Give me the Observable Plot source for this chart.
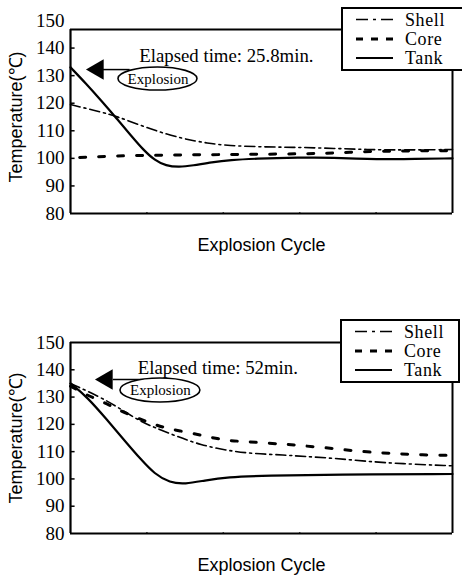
<!DOCTYPE html>
<html><head><meta charset="utf-8">
<script src="https://cdn.jsdelivr.net/npm/d3@7"></script>
<script src="https://cdn.jsdelivr.net/npm/@observablehq/plot@0.6"></script>
<style>
body{margin:0;background:#fff;}
#wrap{position:relative;width:462px;height:575px;overflow:hidden;background:#fff;}
.panel{position:absolute;left:0;}
.legend{position:absolute;background:#fff;border:2px solid #000;box-sizing:border-box;}
</style></head><body><div id="wrap"></div>
<script>
// ---------- data ----------
const yTicks = [80, 90, 100, 110, 120, 130, 140, 150];
const xTicks = [1, 2, 3, 4];
const seriesNames = ["Shell", "Core", "Tank"];

// Panel 1 (elapsed time 25.8 min)
const tank1X  = [0, 0.2, 0.4, 0.6, 0.8, 0.95, 1.1, 1.25, 1.42, 1.6, 1.85, 2.1, 2.4, 3.0, 3.45, 3.88, 4.32, 5];
const tank1T  = [133, 127.2, 121.0, 114.6, 108.0, 103.2, 99.3, 97.3, 96.8, 97.4, 98.6, 99.4, 99.9, 100.3, 100.3, 99.7, 99.7, 100];
const shell1X = [0, 0.3, 0.61, 1.05, 1.48, 1.8, 2.05, 2.58, 3.0, 3.45, 3.88, 4.32, 5];
const shell1T = [119.5, 117.5, 115.3, 110.5, 107, 105.5, 104.6, 104.1, 104, 103.6, 103.2, 103, 103.2];
const core1X  = [0.12, 0.6, 1.2, 1.8, 2.4, 3.0, 3.5, 4.0, 4.5, 5];
const core1T  = [100.3, 100.9, 101.2, 101.3, 101.5, 101.6, 102.0, 102.6, 102.7, 102.8];

// Panel 2 (elapsed time 52 min)
const tank2X  = [0, 0.22, 0.48, 0.74, 0.92, 1.1, 1.3, 1.5, 1.75, 2.05, 2.57, 3.45, 5];
const tank2T  = [135, 130, 121.6, 113, 107.2, 101.8, 98.6, 98.1, 99.4, 100.7, 101.2, 101.6, 101.8];
const shell2X = [0, 0.39, 0.61, 0.92, 1.09, 1.4, 1.7, 2.05, 2.4, 2.8, 3.06, 3.45, 3.88, 4.32, 5];
const shell2T = [135, 130, 126.4, 121, 119, 115.5, 112.5, 110.4, 109.2, 108.8, 108.2, 107.6, 106.4, 105.6, 104.8];
const core2X  = [0, 0.22, 0.48, 0.72, 1.05, 1.26, 1.55, 1.79, 2.05, 2.3, 2.57, 2.83, 3.06, 3.32, 3.58, 3.84, 4.1, 4.32, 4.58, 5];
const core2T  = [134, 130.6, 127.6, 124, 120.4, 118.5, 117, 115.5, 114, 113.7, 113.1, 112.7, 112.1, 111.5, 110.7, 110, 109.5, 109.2, 108.8, 108.6];

const elapsed = ["Elapsed time: 25.8min.", "Elapsed time: 52min."];
const xTitle = "Explosion Cycle";
const yTitle = "Temperature(℃)";
const noteLabel = "Explosion";

// ---------- helpers ----------
const rows = (xs, ts) => xs.map((x, i) => ({x, t: ts[i]}));
const serif = "'Liberation Serif', 'Times New Roman', serif";
const sans = "'Liberation Sans', Arial, sans-serif";
const styles = {
  Shell: {strokeWidth: 1.6, dash: "10,4,2,4", legendDash: "12,5,3,5"},
  Core:  {strokeWidth: 3,   dash: "6,13",     legendDash: "7,8"},
  Tank:  {strokeWidth: 2.2, dash: null,       legendDash: null}
};

function panel(opt) {
  const {shell, core, tank, frameTop, height, marginTop, marginBottom, note} = opt;
  const lines = [["Shell", shell], ["Core", core], ["Tank", tank]];
  return Plot.plot({
    width: 462, height, marginLeft: 70, marginRight: 10, marginTop, marginBottom,
    style: {fontFamily: serif, color: "black", background: "white", overflow: "visible"},
    x: {domain: [0, 5], axis: null},
    y: {domain: [80, 150], axis: null},
    marks: [
      // frame
      Plot.ruleY([80], {x1: 0, x2: 5, strokeWidth: 2.2}),
      Plot.ruleY([frameTop], {x1: 0, x2: 5, strokeWidth: 2}),
      Plot.ruleX([0], {y1: 80, y2: frameTop, strokeWidth: 2.2}),
      Plot.ruleX([5], {y1: 80, y2: frameTop, strokeWidth: 2}),
      // inward ticks
      Plot.ruleY(yTicks.slice(1, -1), {x1: 0, x2: 0.06, strokeWidth: 1.5}),
      Plot.ruleX(xTicks, {y1: 80, y2: 80.25, strokeWidth: 1.5}),
      Plot.axisY(yTicks, {tickSize: 0, tickPadding: 6, fontSize: 19, label: null, fill: "black"}),
      // series
      ...lines.map(([name, data]) => Plot.line(data, {
        x: "x", y: "t", curve: "basis", stroke: "black",
        strokeWidth: styles[name].strokeWidth, strokeDasharray: styles[name].dash
      })),
      // annotations
      Plot.text([note.text], {x: note.tx, y: note.ty, text: d => d, textAnchor: "start", fontSize: 18.8, fontFamily: serif}),
      Plot.ruleY([note.ay], {x1: note.lx1, x2: note.lx2, strokeWidth: 1.5}),
      Plot.dot([0], {x: note.ax, y: note.ay, symbol: "triangle", r: 7.6, rotate: -90, fill: "black", stroke: "none"}),
      Plot.rect([0], {x1: note.ex1, x2: note.ex2, y1: note.ey1, y2: note.ey2, rx: 40, ry: 12, fill: "white", stroke: "black", strokeWidth: 1.6}),
      Plot.text([noteLabel], {x: (note.ex1 + note.ex2) / 2, y: (note.ey1 + note.ey2) / 2, text: d => d, fontSize: 15, fontFamily: serif}),
      // titles
      Plot.text([yTitle], {frameAnchor: "left", dx: -54, rotate: -90, textAnchor: "middle", lineAnchor: "middle", text: d => d, fontFamily: sans, fontSize: 18}),
      Plot.text([xTitle], {frameAnchor: "bottom", dy: 32, textAnchor: "middle", lineAnchor: "middle", text: d => d, fontFamily: sans, fontSize: 18})
    ]
  });
}

function legend(left, top, width) {
  const div = document.createElement("div");
  div.className = "legend";
  Object.assign(div.style, {left: left + "px", top: top + "px", width: width + "px", height: "64px"});
  const svg = d3.select(div).append("svg").attr("width", width).attr("height", 60);
  const ys = [10.5, 30, 49];
  seriesNames.forEach((name, i) => {
    svg.append("line").attr("x1", 13).attr("x2", 50).attr("y1", ys[i]).attr("y2", ys[i])
      .attr("stroke", "black").attr("stroke-width", styles[name].strokeWidth)
      .attr("stroke-dasharray", styles[name].legendDash);
    svg.append("text").attr("x", 62).attr("y", ys[i]).attr("dy", "0.35em")
      .attr("font-family", serif).attr("font-size", 18).attr("letter-spacing", "0.6px").text(name);
  });
  return div;
}

const wrap = document.getElementById("wrap");

const p1 = panel({
  shell: rows(shell1X, shell1T), core: rows(core1X, core1T), tank: rows(tank1X, tank1T),
  frameTop: 146.7, height: 290, marginTop: 20, marginBottom: 77,
  note: {text: elapsed[0], tx: 0.9, ty: 137.3, ax: 0.357, ay: 132.2, lx1: 0.43, lx2: 0.78,
         ex1: 0.628, ex2: 1.662, ey1: 124.6, ey2: 132.95}
});
p1.classList.add("panel"); p1.style.top = "0px";
wrap.appendChild(p1);

const p2 = panel({
  shell: rows(shell2X, shell2T), core: rows(core2X, core2T), tank: rows(tank2X, tank2T),
  frameTop: 150, height: 285, marginTop: 52, marginBottom: 42,
  note: {text: elapsed[1], tx: 0.88, ty: 140.8, ax: 0.475, ay: 136.4, lx1: 0.56, lx2: 1.05,
         ex1: 0.654, ex2: 1.70, ey1: 128.0, ey2: 136.8}
});
p2.classList.add("panel"); p2.style.top = "290px";
wrap.appendChild(p2);

wrap.appendChild(legend(341, 7, 125));
wrap.appendChild(legend(340, 319, 120));
</script>
</body></html>
